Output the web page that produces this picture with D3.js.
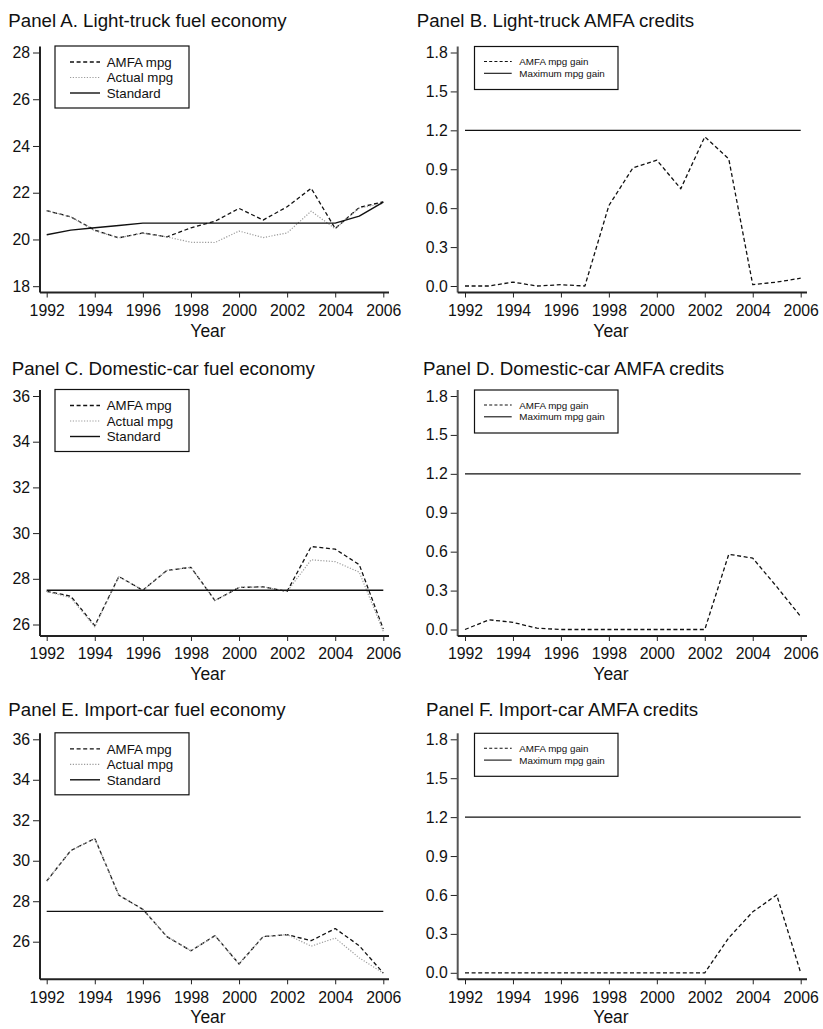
<!DOCTYPE html>
<html><head><meta charset="utf-8">
<script src="https://cdn.jsdelivr.net/npm/d3@7"></script>
<style>
body{margin:0;background:#fff}
svg{display:block}
text{font-family:"Liberation Sans",Arial,Helvetica,sans-serif;fill:#111}
</style>
</head><body>
<svg id="c" width="823" height="1029"></svg>
<script>
// ---------- data ----------
const years = [1992,1993,1994,1995,1996,1997,1998,1999,2000,2001,2002,2003,2004,2005,2006];
const xTicks = [1992,1994,1996,1998,2000,2002,2004,2006];

const truckAmfa     = [21.23,20.97,20.40,20.07,20.28,20.11,20.50,20.78,21.33,20.83,21.40,22.19,20.47,21.37,21.61];
const truckActual   = [21.23,20.97,20.37,20.07,20.27,20.11,19.88,19.87,20.36,20.08,20.28,21.21,20.46,21.34,21.55];
const truckStandard = [20.2,20.4,20.5,20.6,20.7,20.7,20.7,20.7,20.7,20.7,20.7,20.7,20.7,21.0,21.6];
const truckGain     = [0,0,0.03,0,0.01,0,0.62,0.91,0.97,0.75,1.15,0.98,0.01,0.03,0.06];

const domAmfa     = [27.45,27.24,25.95,28.10,27.50,28.37,28.50,27.05,27.62,27.65,27.45,29.41,29.30,28.62,25.80];
const domActual   = [27.45,27.17,25.90,28.09,27.50,28.37,28.50,27.05,27.62,27.65,27.45,28.83,28.75,28.29,25.70];
const domStandard = [27.5,27.5,27.5,27.5,27.5,27.5,27.5,27.5,27.5,27.5,27.5,27.5,27.5,27.5,27.5];
const domGain     = [0,0.075,0.055,0.01,0,0,0,0,0,0,0,0.58,0.55,0.33,0.10];

const impAmfa     = [29.00,30.50,31.10,28.30,27.60,26.25,25.55,26.30,24.90,26.25,26.35,26.05,26.65,25.80,24.45];
const impActual   = [29.00,30.50,31.10,28.30,27.60,26.25,25.55,26.30,24.90,26.25,26.35,25.78,26.18,25.20,24.45];
const impStandard = [27.5,27.5,27.5,27.5,27.5,27.5,27.5,27.5,27.5,27.5,27.5,27.5,27.5,27.5,27.5];
const impGain     = [0,0,0,0,0,0,0,0,0,0,0,0.27,0.47,0.60,0];

const maxGain = [1.2,1.2,1.2,1.2,1.2,1.2,1.2,1.2,1.2,1.2,1.2,1.2,1.2,1.2,1.2];

const truckTicks  = [18,20,22,24,26,28];
const carTicks    = [26,28,30,32,34,36];
const creditTicks = [0,0.3,0.6,0.9,1.2,1.5,1.8];

const titles = [
  "Panel A. Light-truck fuel economy",
  "Panel B. Light-truck AMFA credits",
  "Panel C. Domestic-car fuel economy",
  "Panel D. Domestic-car AMFA credits",
  "Panel E. Import-car fuel economy",
  "Panel F. Import-car AMFA credits"
];
const econLegend   = ["AMFA mpg","Actual mpg","Standard"];
const creditLegend = ["AMFA mpg gain","Maximum mpg gain"];
const xLabel = "Year";

// ---------- layout ----------
const svg = d3.select("#c");
const rowBottom = [292.5, 636, 979.3];
const titleBase = [26.5, 375, 716];
const cols = [
  {axisX:40,    x0:46.7, x1:383.3, xEnd:389, yearX:208, tickGap:10.5},
  {axisX:457.7, x0:465,  x1:800.7, xEnd:807, yearX:611, tickGap:9.5}
];

const styles = {
  amfa:{stroke:"#111", width:1.3, dash:"4,2.6"},
  actual:{stroke:"#9c9c9c", width:1.2, dash:"1.2,1.6"},
  solid:{stroke:"#111", width:1.4, dash:null}
};

const panels = [
  {row:0,col:0,title:titles[0],titleX:8.3, ticks:truckTicks, padLo:6.3, fmt:d3.format("d"),
   series:[[truckAmfa,"amfa"],[truckActual,"actual"],[truckStandard,"solid"]], legend:econLegend, kind:"econ"},
  {row:0,col:1,title:titles[1],titleX:416.7, ticks:creditTicks, padLo:6.5, fmt:d3.format(".1f"),
   series:[[truckGain,"amfa"],[maxGain,"solid"]], legend:creditLegend, kind:"credit"},
  {row:1,col:0,title:titles[2],titleX:11.7, ticks:carTicks, padLo:11.5, fmt:d3.format("d"),
   series:[[domAmfa,"amfa"],[domActual,"actual"],[domStandard,"solid"]], legend:econLegend, kind:"econ"},
  {row:1,col:1,title:titles[3],titleX:423, ticks:creditTicks, padLo:6.5, fmt:d3.format(".1f"),
   series:[[domGain,"amfa"],[maxGain,"solid"]], legend:creditLegend, kind:"credit"},
  {row:2,col:0,title:titles[4],titleX:8.3, ticks:carTicks, padLo:37.6, fmt:d3.format("d"),
   series:[[impAmfa,"amfa"],[impActual,"actual"],[impStandard,"solid"]], legend:econLegend, kind:"econ"},
  {row:2,col:1,title:titles[5],titleX:426, ticks:creditTicks, padLo:6.5, fmt:d3.format(".1f"),
   series:[[impGain,"amfa"],[maxGain,"solid"]], legend:creditLegend, kind:"credit"}
];

panels.forEach(p => {
  const c = cols[p.col];
  const bottom = rowBottom[p.row];
  const top = bottom - 246;
  const g = svg.append("g");

  const x = d3.scaleLinear().domain([years[0], years[years.length-1]]).range([c.x0, c.x1]);
  const tmin = d3.min(p.ticks), tmax = d3.max(p.ticks);
  const y = d3.scaleLinear().domain([tmin, tmax]).range([bottom - p.padLo, bottom - 240]);

  // title
  g.append("text").attr("x", p.titleX).attr("y", titleBase[p.row])
    .style("font-size","18.7px").text(p.title);

  // data lines
  p.series.forEach(([vals, st]) => {
    const s = styles[st];
    const line = d3.line().x((d,i)=>x(years[i])).y(d=>y(d));
    g.append("path").datum(vals).attr("d", line)
      .attr("fill","none").attr("stroke", s.stroke).attr("stroke-width", s.width)
      .attr("stroke-dasharray", s.dash).attr("stroke-linejoin","round");
  });

  // y axis
  const yAxis = d3.axisLeft(y).tickValues(p.ticks).tickFormat(p.fmt).tickSize(7).tickPadding(3);
  const ya = g.append("g").attr("transform",`translate(${c.axisX},0)`).call(yAxis);
  ya.select(".domain").remove();
  ya.selectAll(".tick line").attr("stroke","#222").attr("stroke-width",1);
  ya.selectAll(".tick text").style("font-size","15.8px").attr("font-family",null).attr("fill","#111");
  g.append("line").attr("x1",c.axisX).attr("x2",c.axisX).attr("y1",top).attr("y2",bottom)
    .attr("stroke", p.col===1 ? "#555" : "#222").attr("stroke-width",2);

  // x axis
  const xAxis = d3.axisBottom(x).tickValues(xTicks).tickFormat(d3.format("d")).tickSize(5).tickPadding(7);
  const xa = g.append("g").attr("transform",`translate(0,${bottom})`).call(xAxis);
  xa.select(".domain").remove();
  xa.selectAll(".tick line").attr("stroke","#222").attr("stroke-width",1);
  xa.selectAll(".tick text").style("font-size","15.8px").attr("font-family",null).attr("fill","#111");
  g.append("line").attr("x1",c.axisX).attr("x2",c.xEnd).attr("y1",bottom).attr("y2",bottom)
    .attr("stroke","#222").attr("stroke-width",2);

  g.append("text").attr("x", c.yearX).attr("y", bottom + 44).attr("text-anchor","middle")
    .style("font-size","17.5px").text(xLabel);

  // legend
  if (p.kind === "econ") {
    const bx = 55, by = bottom - 246.5, bw = 134, bh = 62;
    g.append("rect").attr("x",bx).attr("y",by).attr("width",bw).attr("height",bh)
      .attr("fill","#fff").attr("stroke","#111").attr("stroke-width",1.2);
    const keys = ["amfa","actual","solid"];
    p.legend.forEach((lab,i) => {
      const ry = by + 16 + i*15.5;
      const s = styles[keys[i]];
      g.append("line").attr("x1",70).attr("x2",100).attr("y1",ry).attr("y2",ry)
        .attr("stroke",s.stroke).attr("stroke-width",s.width).attr("stroke-dasharray",s.dash);
      g.append("text").attr("x",106.7).attr("y",ry+4.8).style("font-size","13.3px").text(lab);
    });
  } else {
    const bx = 474.5, by = bottom - 246, bw = 143.5, bh = 43;
    g.append("rect").attr("x",bx).attr("y",by).attr("width",bw).attr("height",bh)
      .attr("fill","#fff").attr("stroke","#111").attr("stroke-width",1.2);
    const keys = ["amfa","solid"];
    p.legend.forEach((lab,i) => {
      const ry = by + 15 + i*11.8;
      const s = styles[keys[i]];
      g.append("line").attr("x1",484).attr("x2",511.7).attr("y1",ry).attr("y2",ry)
        .attr("stroke",s.stroke).attr("stroke-width",1.1).attr("stroke-dasharray",s.dash ? "3,2.2" : null);
      g.append("text").attr("x",519.3).attr("y",ry+3.5).style("font-size","9.8px").text(lab);
    });
  }
});
</script>
</body></html>
